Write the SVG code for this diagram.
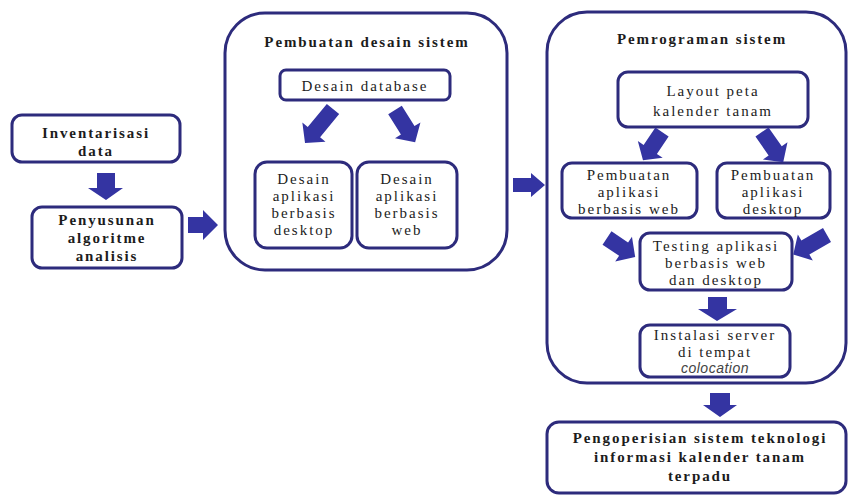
<svg xmlns="http://www.w3.org/2000/svg" width="848" height="496" viewBox="0 0 848 496">
<style>
.box{fill:#fff;stroke:#2d2b7c;stroke-width:3}
.arr{fill:#3434a2}
text{font-family:"Liberation Serif","Times New Roman",serif;fill:#1c1c1c;text-anchor:middle}
.b{font-weight:bold;font-size:15px;letter-spacing:1.9px}
.r{font-size:15px;letter-spacing:2px}
.it{font-family:"Liberation Sans",Arial,sans-serif;font-style:italic;font-size:14px;fill:#444;letter-spacing:0.5px}
</style>
<rect width="848" height="496" fill="#fff"/>
<g id="pembuatan-desain">
<rect class="box" x="225" y="13" width="282" height="257" rx="40"/>
<text class="b" x="367" y="47">Pembuatan desain sistem</text>
</g>
<g id="pemrograman">
<rect class="box" x="547" y="12" width="299" height="371" rx="40"/>
<text class="b" x="702" y="44">Pemrograman sistem</text>
</g>
<g id="inventarisasi">
<rect class="box" x="12" y="115" width="168" height="47" rx="10"/>
<text class="b" x="96" y="138">Inventarisasi</text>
<text class="b" x="96" y="156">data</text>
</g>
<g id="penyusunan">
<rect class="box" x="32" y="207" width="150" height="61" rx="10"/>
<text class="b" x="107" y="225">Penyusunan</text>
<text class="b" x="107" y="243">algoritme</text>
<text class="b" x="107" y="261">analisis</text>
</g>
<g id="desain-database">
<rect class="box" x="280" y="70" width="170" height="30" rx="6"/>
<text class="r" x="365" y="91">Desain database</text>
</g>
<g id="desain-desktop">
<rect class="box" x="255" y="162" width="97" height="86" rx="12"/>
<text class="r" x="304" y="184">Desain</text>
<text class="r" x="304" y="201">aplikasi</text>
<text class="r" x="304" y="218">berbasis</text>
<text class="r" x="304" y="235">desktop</text>
</g>
<g id="desain-web">
<rect class="box" x="357" y="162" width="100" height="86" rx="12"/>
<text class="r" x="407" y="184">Desain</text>
<text class="r" x="407" y="201">aplikasi</text>
<text class="r" x="407" y="218">berbasis</text>
<text class="r" x="407" y="235">web</text>
</g>
<g id="layout-peta">
<rect class="box" x="618" y="72" width="190" height="55" rx="10"/>
<text class="r" x="713" y="96">Layout peta</text>
<text class="r" x="713" y="116">kalender tanam</text>
</g>
<g id="pembuatan-web">
<rect class="box" x="562" y="163" width="135" height="55" rx="10"/>
<text class="r" x="629" y="180">Pembuatan</text>
<text class="r" x="629" y="197">aplikasi</text>
<text class="r" x="629" y="214">berbasis web</text>
</g>
<g id="pembuatan-desktop">
<rect class="box" x="717" y="163" width="113" height="55" rx="10"/>
<text class="r" x="773" y="180">Pembuatan</text>
<text class="r" x="773" y="197">aplikasi</text>
<text class="r" x="773" y="214">desktop</text>
</g>
<g id="testing">
<rect class="box" x="640" y="233" width="152" height="57" rx="10"/>
<text class="r" x="716" y="251">Testing aplikasi</text>
<text class="r" x="716" y="268">berbasis web</text>
<text class="r" x="716" y="285">dan desktop</text>
</g>
<g id="instalasi">
<rect class="box" x="640" y="325" width="150" height="52" rx="10"/>
<text class="r" x="715" y="340">Instalasi server</text>
<text class="r" x="715" y="357">di tempat</text>
<text class="it" x="715" y="373">colocation</text>
</g>
<g id="pengoperisian">
<rect class="box" x="547" y="422" width="299" height="71" rx="12"/>
<text class="b" x="700" y="443">Pengoperisian sistem teknologi</text>
<text class="b" x="700" y="462">informasi kalender tanam</text>
<text class="b" x="700" y="481">terpadu</text>
</g>
<g id="connectors" class="arr">
<polygon points="97,173 115,173 115,188 123,188 106,200 88,188 97,188"/>
<polygon points="188,217 203,217 203,210 218,225 203,240 203,233 188,233"/>
<polygon points="513,178 531,178 531,173 545,185 531,197 531,192 513,192"/>
<polygon transform="translate(333,109) rotate(129.5)" points="0,-8 30,-8 30,-15 44,0 30,15 30,8 0,8"/>
<polygon transform="translate(395,110) rotate(58)" points="0,-8 24,-8 24,-15 38,0 24,15 24,8 0,8"/>
<polygon transform="translate(662,132) rotate(124)" points="0,-8 21,-8 21,-15 34,0 21,15 21,8 0,8"/>
<polygon transform="translate(762,132) rotate(55)" points="0,-8 23,-8 23,-15 37,0 23,15 23,8 0,8"/>
<polygon transform="translate(607,238) rotate(34)" points="0,-8 20,-8 20,-15 34,0 20,15 20,8 0,8"/>
<polygon transform="translate(827,235) rotate(150)" points="0,-8 25,-8 25,-15 39,0 25,15 25,8 0,8"/>
<polygon points="708,297 727,297 727,309 737,309 717,321 698,309 708,309"/>
<polygon points="710,393 730,393 730,405 737,405 720,417 703,405 710,405"/>
</g>
</svg>
